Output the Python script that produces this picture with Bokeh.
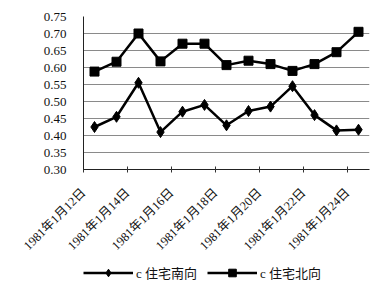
from bokeh.plotting import figure
from bokeh.layouts import column
from bokeh.models import FixedTicker, Legend, LegendItem, Range1d, NumeralTickFormatter
from bokeh.embed import file_html
from bokeh.resources import INLINE

dates = ["1981年1月12日", "1981年1月13日", "1981年1月14日", "1981年1月15日",
         "1981年1月16日", "1981年1月17日", "1981年1月18日", "1981年1月19日",
         "1981年1月20日", "1981年1月21日", "1981年1月22日", "1981年1月23日",
         "1981年1月24日"]
south = [0.425, 0.455, 0.555, 0.410, 0.470, 0.490, 0.430, 0.472, 0.485, 0.545, 0.460, 0.415, 0.417]
north = [0.588, 0.617, 0.700, 0.618, 0.670, 0.670, 0.607, 0.620, 0.610, 0.590, 0.610, 0.645, 0.705]
y_ticks = [0.30, 0.35, 0.40, 0.45, 0.50, 0.55, 0.60, 0.65, 0.70, 0.75]
south_name = "c 住宅南向"
north_name = "c 住宅北向"

FONT = "Liberation Serif, Noto Sans CJK SC"
x = list(range(len(dates)))

p = figure(width=381, height=260, output_backend="svg", toolbar_location=None,
           x_range=Range1d(-0.5, len(dates) - 0.5), y_range=Range1d(0.30, 0.75),
           min_border_left=83, min_border_right=12, min_border_top=16,
           min_border_bottom=90)
p.outline_line_color = None
p.background_fill_color = "white"
p.border_fill_color = "white"

p.xgrid.grid_line_color = None
p.ygrid.ticker = FixedTicker(ticks=y_ticks)
p.ygrid.grid_line_color = "#8a8a8a"
p.ygrid.grid_line_width = 1

p.yaxis.ticker = FixedTicker(ticks=y_ticks)
p.yaxis.formatter = NumeralTickFormatter(format="0.00")
p.yaxis.major_tick_line_color = None
p.yaxis.minor_tick_line_color = None
p.yaxis.axis_line_color = "#222222"
p.yaxis.major_label_text_font = FONT
p.yaxis.major_label_text_font_size = "13px"
p.yaxis.major_label_text_color = "#111111"
p.yaxis.major_label_standoff = 11

# tick marks (and labels) at every second category boundary
boundaries = [i - 0.5 for i in x[::2]]
p.xaxis.ticker = FixedTicker(ticks=boundaries)
p.xaxis.major_label_overrides = {t: d for t, d in zip(boundaries, dates[::2])}
p.xaxis.major_label_orientation = 0.785398
p.xaxis.major_tick_in = 3
p.xaxis.major_tick_out = 3
p.xaxis.major_tick_line_color = "#333333"
p.xaxis.minor_tick_line_color = None
p.xaxis.axis_line_color = "#222222"
p.xaxis.major_label_text_font = FONT
p.xaxis.major_label_text_font_size = "12.5px"
p.xaxis.major_label_text_color = "#111111"
p.xaxis.major_label_standoff = 18

p.line(x, south, line_color="black", line_width=2.5)
p.scatter(x, south, marker="diamond", size=11, fill_color="black", line_color="black")
p.line(x, north, line_color="black", line_width=2.5)
p.scatter(x, north, marker="square", size=9, fill_color="black", line_color="black")

# legend strip below the chart (its renderers sit outside the strip's visible range)
lf = figure(width=381, height=27, output_backend="svg", toolbar_location=None,
            x_range=Range1d(0, 1), y_range=Range1d(0, 1),
            min_border=0, x_axis_type=None, y_axis_type=None)
lf.outline_line_color = None
lf.xgrid.grid_line_color = None
lf.ygrid.grid_line_color = None
off = [-5, -4]
ls = lf.line(off, off, line_color="black", line_width=2.5)
ms = lf.scatter(off, off, marker="diamond", size=11, fill_color="black", line_color="black")
ln = lf.line(off, off, line_color="black", line_width=2.5)
mn = lf.scatter(off, off, marker="square", size=9, fill_color="black", line_color="black")
legend = Legend(items=[LegendItem(label=south_name, renderers=[ls, ms]),
                       LegendItem(label=north_name, renderers=[ln, mn])],
                location=(0, 5), orientation="horizontal",
                glyph_width=50, glyph_height=19, spacing=10,
                label_standoff=3, padding=0, margin=0,
                border_line_color=None, background_fill_alpha=0,
                label_text_font=FONT, label_text_font_size="13px",
                label_text_color="#111111")
lf.add_layout(legend)

open("out.html", "w").write(file_html(column(p, lf, spacing=0), INLINE))
